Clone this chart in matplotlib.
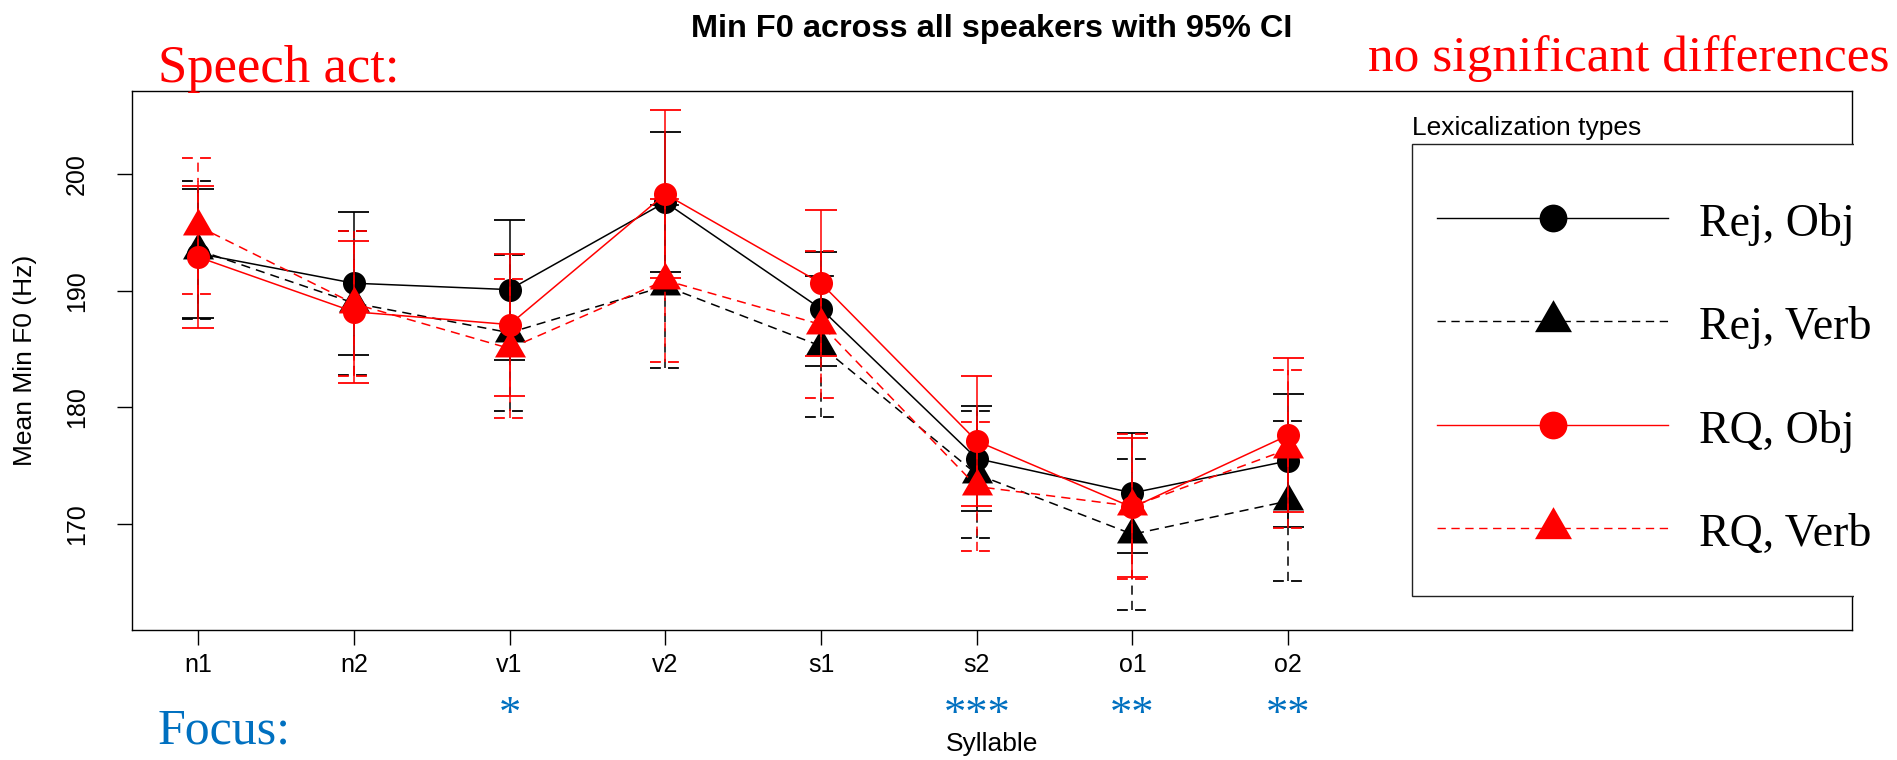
import numpy as np
import matplotlib
matplotlib.use('Agg')
import matplotlib.pyplot as plt
from matplotlib.lines import Line2D
from matplotlib.patches import Rectangle
from matplotlib.transforms import Bbox, TransformedBbox

plt.rcParams['font.family'] = 'Liberation Sans'

syllables = ['n1', 'n2', 'v1', 'v2', 's1', 's2', 'o1', 'o2']
focus_marks = ['', '', '*', '', '', '***', '**', '**']

# mean Min F0 per syllable and half width of the 95% CI
rej_obj = [193.2, 190.65, 190.1, 197.6, 188.45, 175.6, 172.65, 175.4]
rej_obj_ci = [5.5, 6.15, 6.0, 6.0, 4.9, 4.5, 5.15, 5.7]
rej_verb = [193.5, 188.95, 186.4, 190.4, 185.25, 174.25, 169.1, 171.95]
rej_verb_ci = [5.9, 6.15, 6.7, 7.0, 6.05, 5.45, 6.5, 6.85]
rq_obj = [192.9, 188.2, 187.1, 198.3, 190.65, 177.1, 171.4, 177.6]
rq_obj_ci = [6.1, 6.1, 6.1, 7.2, 6.25, 5.55, 5.95, 6.6]
rq_verb = [195.55, 188.9, 185.05, 190.9, 187.1, 173.2, 171.5, 176.4]
rq_verb_ci = [5.85, 6.2, 5.95, 7.0, 6.3, 5.5, 6.2, 6.8]

labels = ['Rej, Obj', 'Rej, Verb', 'RQ, Obj', 'RQ, Verb']

dash = (0, (6, 4))
tri = [(0, 1.555), (1.347, -0.778), (-1.347, -0.778), (0, 1.555)]
blue = '#0070C0'

series = [(rej_obj, rej_obj_ci, 'black', '-', 'o'),
          (rej_verb, rej_verb_ci, 'black', dash, tri),
          (rq_obj, rq_obj_ci, 'red', '-', 'o'),
          (rq_verb, rq_verb_ci, 'red', dash, tri)]

x = np.arange(1, len(syllables) + 1)

fig = plt.figure(figsize=(18.97, 7.6), dpi=100)
ax = fig.add_axes([132 / 1897, 130 / 760, 1720 / 1897, 539 / 760])

cap = 0.1
handles = []
for (mean, ci, col, ls, mk), lab in zip(series, labels):
    mean = np.array(mean)
    ci = np.array(ci)
    ms = 16.6 if mk == 'o' else 25.8
    ax.plot(x, mean, color=col, ls=ls, lw=1.1, marker=mk, ms=ms, mew=0, mfc=col)
    ax.vlines(x, mean - ci, mean + ci, colors=col, linestyles=ls, lw=1.1)
    ax.hlines(mean + ci, x - cap, x + cap, colors=col, linestyles=ls, lw=1.3)
    ax.hlines(mean - ci, x - cap, x + cap, colors=col, linestyles=ls, lw=1.3)
    handles.append(Line2D([], [], color=col, ls=ls, lw=1.0, marker=mk,
                          ms=20 if mk == 'o' else 30.7, mew=0, mfc=col))

ax.set_xlim(0.576, 11.62)
ax.set_ylim(160.88, 207.15)
ax.set_xticks(x)
ax.set_xticklabels(syllables)
ax.set_yticks([170, 180, 190, 200])
ax.tick_params(axis='both', length=10.8, width=1.0, labelsize=18, direction='out')
ax.tick_params(axis='x', pad=6)
ax.tick_params(axis='y', pad=20, labelrotation=90)
plt.setp(ax.get_yticklabels(), va='center')
for sp in ax.spines.values():
    sp.set_linewidth(1.0)

ax.set_ylabel('Mean Min F0 (Hz)', fontsize=19)
ax.yaxis.set_label_coords(-0.0552, 0.5)
ax.set_xlabel('Syllable', fontsize=19)
ax.xaxis.set_label_coords(0.5, -0.19)
ax.set_title('Min F0 across all speakers with 95% CI', fontsize=23.4,
             fontweight='bold', pad=38.9)

# focus significance stars under the syllables
for xi, m in zip(x, focus_marks):
    if m:
        ax.text(xi, -(726 - 630) / 539, m, transform=ax.get_xaxis_transform(),
                ha='center', va='baseline', color=blue, fontsize=32,
                family='Liberation Serif')

# legend frame: runs off the right edge, clipped just past the plot box
frame = Rectangle(((1412 - 132) / 1720, (630 - 596) / 539), 1.0, (596 - 144) / 539,
                  transform=ax.transAxes, facecolor='white', edgecolor='#222222',
                  lw=1.0, zorder=4)
ax.add_patch(frame)
frame.set_clip_box(TransformedBbox(Bbox([[0, 0], [1 + 2 / 1720, 1]]), ax.transAxes))

leg = ax.legend(handles, labels, loc='upper left',
                bbox_to_anchor=((1437 - 132) / 1720, (630 - 200) / 539),
                borderaxespad=0, borderpad=0, frameon=False,
                labelspacing=1.25, handlelength=5.04, handleheight=0.99,
                handletextpad=0.68, numpoints=1,
                prop={'family': 'Liberation Serif', 'size': 33})
leg.set_zorder(5)

fig.text(1412 / 1897, 1 - 135 / 760, 'Lexicalization types', fontsize=19,
         va='baseline', ha='left')

fig.text(158 / 1897, 1 - 82 / 760, 'Speech act:', color='red', fontsize=38,
         family='Liberation Serif', va='baseline', ha='left')
fig.text(1889 / 1897, 1 - 71 / 760, 'no significant differences', color='red',
         fontsize=37, family='Liberation Serif', va='baseline', ha='right')
fig.text(158 / 1897, 1 - 744 / 760, 'Focus:', color=blue, fontsize=36,
         family='Liberation Serif', va='baseline', ha='left')

fig.savefig('out.png', dpi=100)
